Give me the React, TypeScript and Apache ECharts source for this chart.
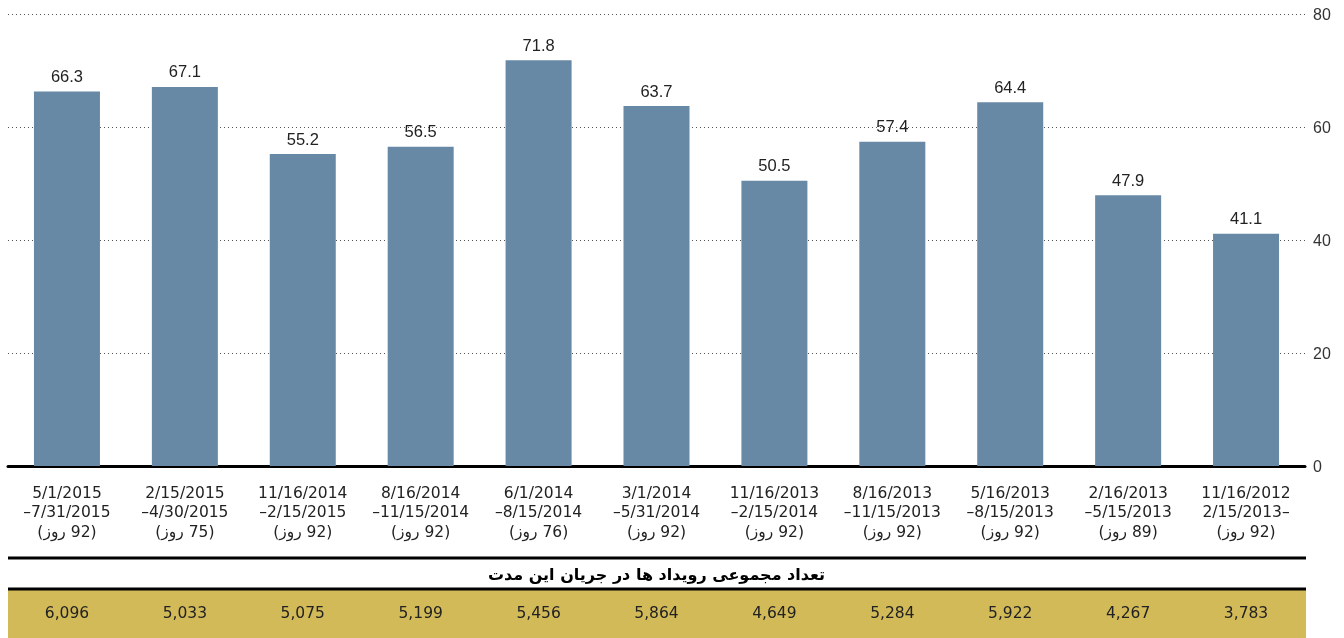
import React, { useEffect, useRef } from "react";
import * as echarts from "echarts";

// Period start dates, end dates and length in days, newest first
const periodStarts = [
  "5/1/2015", "2/15/2015", "11/16/2014", "8/16/2014", "6/1/2014", "3/1/2014",
  "11/16/2013", "8/16/2013", "5/16/2013", "2/16/2013", "11/16/2012",
];
const periodEnds = [
  "–7/31/2015", "–4/30/2015", "–2/15/2015", "–11/15/2014", "–8/15/2014", "–5/31/2014",
  "–2/15/2014", "–11/15/2013", "–8/15/2013", "–5/15/2013", "2/15/2013–",
];
const periodDays = [92, 75, 92, 92, 76, 92, 92, 92, 92, 89, 92];

// Daily average of events per period
const dailyAverages = [66.3, 67.1, 55.2, 56.5, 71.8, 63.7, 50.5, 57.4, 64.4, 47.9, 41.1];

// Total events per period
const periodTotals = [6096, 5033, 5075, 5199, 5456, 5864, 4649, 5284, 5922, 4267, 3783];

const yTicks = { min: 0, max: 80, interval: 20 };
const tableTitle = "تعداد مجموعی رویداد ها در جریان این مدت";

const BAR_COLOR = "#6789a5";
const GOLD = "#d3ba58";
const TEXT = "#222222";

export default function App() {
  const ref = useRef<HTMLDivElement>(null);

  useEffect(() => {
    if (!ref.current) return;
    const chart = echarts.init(ref.current, undefined, { renderer: "svg" });

    const categories = periodStarts.map(
      (s, i) => `${s}\n${periodEnds[i]}\n\u200F(${periodDays[i]} روز)\u200F`
    );
    const totalLabels = periodTotals.map((t) => t.toLocaleString("en-US"));

    const left = 8;
    const right = 39;
    const plotRight = 1344 - right;

    chart.setOption({
      animation: false,
      grid: [
        { left, right, top: 14, bottom: 172 },
        { left, right, top: 612, height: 1 },
      ],
      xAxis: [
        {
          type: "category",
          gridIndex: 0,
          data: categories,
          axisLine: { show: true, lineStyle: { color: "#000", width: 3 } },
          axisTick: { show: false },
          axisLabel: {
            margin: 17,
            fontFamily: "DejaVu Sans",
            fontSize: 15.5,
            lineHeight: 19.5,
            color: TEXT,
            interval: 0,
          },
        },
        {
          type: "category",
          gridIndex: 1,
          data: totalLabels,
          axisLine: { show: false },
          axisTick: { show: false },
          axisLabel: {
            margin: 0,
            verticalAlign: "middle",
            fontFamily: "DejaVu Sans",
            fontSize: 15.5,
            color: TEXT,
            interval: 0,
          },
        },
      ],
      yAxis: [
        {
          type: "value",
          gridIndex: 0,
          position: "right",
          min: yTicks.min,
          max: yTicks.max,
          interval: yTicks.interval,
          axisLine: { show: false },
          axisTick: { show: false },
          axisLabel: {
            margin: 8,
            fontFamily: "Liberation Sans",
            fontSize: 16,
            color: "#333",
          },
          splitLine: {
            show: true,
            lineStyle: { color: "#555", width: 1, type: [1, 3] },
          },
        },
        { type: "value", gridIndex: 1, show: false },
      ],
      series: [
        {
          type: "bar",
          xAxisIndex: 0,
          yAxisIndex: 0,
          data: dailyAverages,
          barWidth: 66,
          itemStyle: { color: BAR_COLOR },
          label: {
            show: true,
            position: "top",
            distance: 7,
            fontFamily: "Liberation Sans",
            fontSize: 16.5,
            color: TEXT,
            formatter: (p: any) => p.value.toFixed(1),
          },
        },
      ],
      graphic: [
        {
          type: "line",
          shape: { x1: left, y1: 558, x2: plotRight + 1, y2: 558 },
          style: { stroke: "#000", lineWidth: 3 },
        },
        {
          type: "rect",
          shape: { x: left, y: 589, width: plotRight + 1 - left, height: 49 },
          style: { fill: GOLD },
        },
        {
          type: "line",
          shape: { x1: left, y1: 589, x2: plotRight + 1, y2: 589 },
          style: { stroke: "#000", lineWidth: 3 },
        },
        {
          type: "text",
          x: (left + plotRight) / 2,
          y: 574,
          style: {
            text: tableTitle,
            fill: "#000",
            font: "bold 16px 'DejaVu Sans'",
            align: "center",
            verticalAlign: "middle",
          },
        },
      ],
    });

    return () => chart.dispose();
  }, []);

  return (
    <div
      ref={ref}
      style={{ position: "fixed", left: 0, top: 0, width: 1344, height: 638 }}
    />
  );
}
